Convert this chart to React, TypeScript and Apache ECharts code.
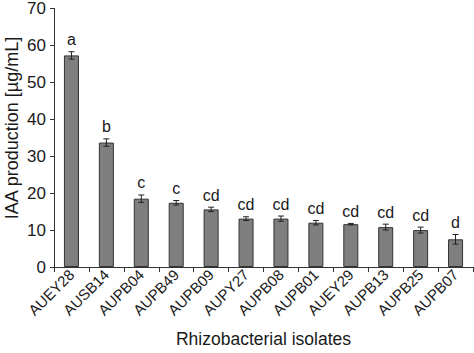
import React, { useEffect, useRef } from "react";
import * as echarts from "echarts";

const categories = ["AUEY28", "AUSB14", "AUPB04", "AUPB49", "AUPB09", "AUPY27", "AUPB08", "AUPB01", "AUEY29", "AUPB13", "AUPB25", "AUPB07"];
const values = [57.3, 33.7, 18.5, 17.4, 15.6, 13.1, 13.1, 12.0, 11.6, 10.8, 10.0, 7.5];
const errors = [1.0, 1.0, 1.0, 0.6, 0.6, 0.5, 0.7, 0.6, 0.2, 0.8, 0.8, 1.3];
const letters = ["a", "b", "c", "c", "cd", "cd", "cd", "cd", "cd", "cd", "cd", "d"];
const yTicks = [0, 10, 20, 30, 40, 50, 60, 70];
const yTitle = "IAA production [\u00b5g/mL]";
const xTitle = "Rhizobacterial isolates";

const FONT = "Liberation Sans, Arial, sans-serif";
const TXT = "#1a1a1a";

export default function App() {
  const ref = useRef<HTMLDivElement>(null);
  useEffect(() => {
    if (!ref.current) return;
    const chart = echarts.init(ref.current, undefined, { renderer: "svg" });
    const errData = categories.map((c, i) => [i, values[i], errors[i]]);
    chart.setOption({
      animation: false,
      grid: { left: 54, right: 1, top: 7, bottom: 86 },
      graphic: [
        {
          type: "text",
          x: 12,
          y: 128,
          rotation: Math.PI / 2,
          style: {
            text: yTitle,
            fontFamily: FONT,
            fontSize: 18,
            fill: TXT,
            align: "center",
            verticalAlign: "middle",
          },
        },
      ],
      xAxis: {
        type: "category",
        data: categories,
        name: xTitle,
        nameLocation: "middle",
        nameGap: 63,
        nameTextStyle: { fontFamily: FONT, fontSize: 17.5, color: TXT },
        axisLine: { lineStyle: { color: "#333", width: 1 } },
        axisTick: { show: true, length: 5, lineStyle: { color: "#333" } },
        axisLabel: { rotate: 45, fontFamily: FONT, fontSize: 15, color: TXT, margin: 5 },
      },
      yAxis: {
        type: "value",
        min: 0,
        max: 70,
        interval: 10,
        axisLine: { show: true, lineStyle: { color: "#333", width: 1 } },
        axisTick: { show: true, length: 4, lineStyle: { color: "#333" } },
        axisLabel: {
          fontFamily: FONT,
          fontSize: 17,
          color: TXT,
          margin: 8,
          formatter: (v: number) => (yTicks.includes(v) ? String(v) : ""),
        },
        splitLine: { show: false },
      },
      series: [
        {
          type: "bar",
          data: values,
          barWidth: "43%",
          itemStyle: { color: "#7f7f7f", borderColor: "#333", borderWidth: 1 },
        },
        {
          type: "custom",
          data: errData,
          z: 5,
          renderItem: (params: any, api: any) => {
            const i = api.value(0);
            const v = api.value(1);
            const e = api.value(2);
            const top = api.coord([i, v + e]);
            const bot = api.coord([i, v - e]);
            const cap = 3;
            const style = { stroke: "#222", lineWidth: 1 };
            return {
              type: "group",
              children: [
                { type: "line", shape: { x1: top[0], y1: top[1], x2: bot[0], y2: bot[1] }, style },
                { type: "line", shape: { x1: top[0] - cap, y1: top[1], x2: top[0] + cap, y2: top[1] }, style },
                { type: "line", shape: { x1: bot[0] - cap, y1: bot[1], x2: bot[0] + cap, y2: bot[1] }, style },
                {
                  type: "text",
                  x: top[0],
                  y: top[1] - 4,
                  style: {
                    text: letters[i],
                    fontFamily: FONT,
                    fontSize: 16,
                    fill: TXT,
                    align: "center",
                    verticalAlign: "bottom",
                  },
                },
              ],
            };
          },
        },
      ],
    });
    return () => chart.dispose();
  }, []);
  return <div ref={ref} style={{ position: "absolute", left: 0, top: 0, width: 474, height: 353, background: "#fff" }} />;
}
